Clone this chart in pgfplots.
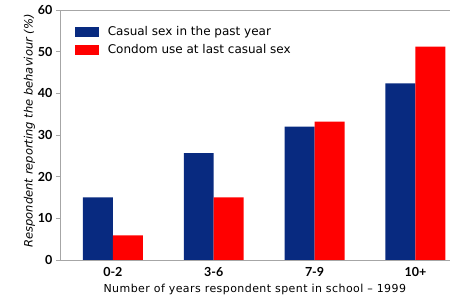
\documentclass[border=0pt]{standalone}
\usepackage{pgfplots}
\pgfplotsset{compat=1.18}
\usepackage{fontspec}
\setmainfont{Lato}
\newfontfamily\dv{DejaVu Sans}
\definecolor{navy}{RGB}{8,42,128}
\definecolor{bred}{RGB}{255,0,0}
\begin{document}
\begin{tikzpicture}
\begin{axis}[
  scale only axis,
  width=390pt, height=250pt,
  xmin=-0.525, xmax=3.34, ymin=0, ymax=60,
  ybar=0pt, bar width=30pt,
  axis x line*=bottom, axis y line*=left,
  axis line style={gray!70, line width=0.6pt},
  xtick={0,1,2,3}, xticklabels={0-2,3-6,7-9,10+},
  xtick style={draw=none},
  ytick={0,10,...,60},
  y tick style={gray!70, line width=0.6pt},
  tick align=outside, major tick length=4pt,
  /pgf/number format/assume math mode=true,
  tick label style={font=\fontsize{12.5}{14}\selectfont\bfseries},
  xlabel={\dv\addfontfeature{LetterSpace=4}Number of years respondent spent in school \textendash{} 1999},
  ylabel={\dv\itshape Respondent reporting the behaviour (\%)},
  label style={font=\fontsize{11}{13}\selectfont},
  xlabel style={yshift=-1pt},
  ylabel style={yshift=-4pt, xshift=4pt, font=\fontsize{11.5}{13}\selectfont},
  legend style={at={(0.03,0.95)}, anchor=north west, draw=none, fill=none,
    font=\dv\fontsize{12}{14}\selectfont, row sep=3pt},
  legend image code/.code={\fill[#1] (0pt,-5pt) rectangle (24pt,5pt); \path (31pt,0pt);},
  legend cell align=left,
  clip=false,
  after end axis/.code={
    \draw[gray!70, line width=0.6pt] (rel axis cs:0,1) -- (rel axis cs:1,1);
    \path ([shift={(-60pt,-39pt)}]rel axis cs:0,0) rectangle ([shift={(0pt,10pt)}]rel axis cs:1,1);
  },
]
\addplot[fill=navy, draw=none] coordinates {(0,15) (1,25.6) (2,32) (3,42.4)};
\addplot[fill=bred, draw=none] coordinates {(0,5.9) (1,15) (2,33.2) (3,51.2)};
\legend{Casual sex in the past year, Condom use at last casual sex}
\end{axis}
\end{tikzpicture}
\end{document}
